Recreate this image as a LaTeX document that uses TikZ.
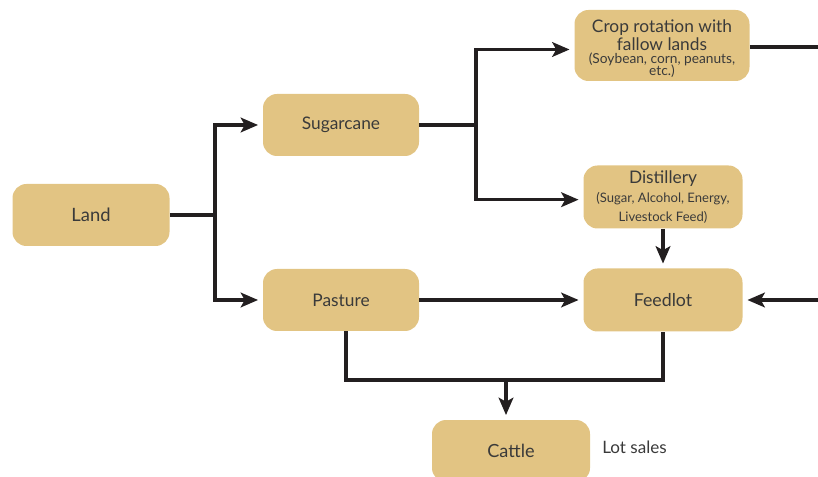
\documentclass[tikz,border=0pt]{standalone}
\usepackage{fontspec}
\setmainfont{Lato}
\usetikzlibrary{arrows.meta, calc}
\definecolor{boxtan}{HTML}{E2C483}
\definecolor{inkgray}{HTML}{3A3A3A}
\definecolor{linedark}{HTML}{231F20}
\newcommand\bigtxt{\fontsize{13}{12.5}\selectfont}
\newcommand\smalltxt{\fontsize{10.3}{9}\selectfont}
\newcommand\midtxt{\fontsize{9.8}{11.5}\selectfont}

\begin{document}
\begin{tikzpicture}[x=0.75pt, y=-0.75pt,
	box/.style={fill=boxtan, rounded corners=10.5pt, text=inkgray, align=center, inner sep=0pt, font=\fontsize{13}{14}\selectfont},
	link/.style={draw=linedark, line width=2.6pt},
	arr/.style={link, shorten >=3.5pt, -{Stealth[length=13pt, width=11pt, inset=3pt]}}]
	\useasboundingbox (0,0) rectangle (818,477);
	\node [box, minimum width=117.75pt, minimum height=46.5pt, font=\fontsize{13.8}{14}\selectfont] (land) at (91,215) {Land};
	\node [box, minimum width=117pt, minimum height=46.5pt] (sugar) at (341,125) {Sugarcane};
	\node [box, minimum width=117pt, minimum height=46.5pt] (pasture) at (341,300) {Pasture};
	\node [box, minimum width=131.25pt, minimum height=53.25pt] (crop) at (662,45.5) {};
	\node [text=inkgray, align=center, inner sep=0pt] (croptxt) at (662,48.5) {\bigtxt Crop rotation with\\[1.5pt]\bigtxt fallow lands\\[-2pt]\smalltxt (Soybean, corn, peanuts,\\[-3pt]\smalltxt etc.)};
	\node [box, minimum width=119.25pt, minimum height=47.25pt] (distil) at (663,197) {\bigtxt Distillery\\\midtxt (Sugar, Alcohol, Energy,\\\midtxt Livestock Feed)};
	\node [box, minimum width=119.25pt, minimum height=47.25pt, font=\fontsize{13.3}{14}\selectfont] (feedlot) at (663,300) {Feedlot};
	\node [box, minimum width=118.5pt, minimum height=46.5pt, font=\fontsize{13.6}{14}\selectfont] (cattle) at (511,451) {Cattle};
	\node [text=inkgray, anchor=west, inner sep=0pt, font=\fontsize{12.8}{13}\selectfont] (lotsales) at (602,447) {Lot sales};
	\coordinate (j1) at (215,215);
	\coordinate (j2) at (476,125);
	\coordinate (j3) at (346,380);
	\coordinate (j4) at (663,380);
	\coordinate (j5) at (506,380);
	\coordinate (cedge) at (818,47);
	\coordinate (fedge) at (818,300);
	\draw [link] (land) -- (j1);
	\draw [arr] (j1) |- (sugar);
	\draw [arr] (j1) |- (pasture);
	\draw [link] (sugar) -- (j2);
	\draw [arr] (j2) |- ([yshift=-3pt]crop.west);
	\draw [arr] (j2) |- ([yshift=-2pt]distil.west);
	\draw [link] (crop.east |- cedge) -- (cedge);
	\draw [arr] (distil) -- (feedlot);
	\draw [arr] (fedge) -- (feedlot);
	\draw [arr] (pasture) -- (feedlot);
	\draw [link] (pasture.south -| j3) -- (j3) -- (j4) -- (feedlot.south);
	\draw [arr] (j5) -- (cattle.north -| j5);
\end{tikzpicture}
\end{document}
